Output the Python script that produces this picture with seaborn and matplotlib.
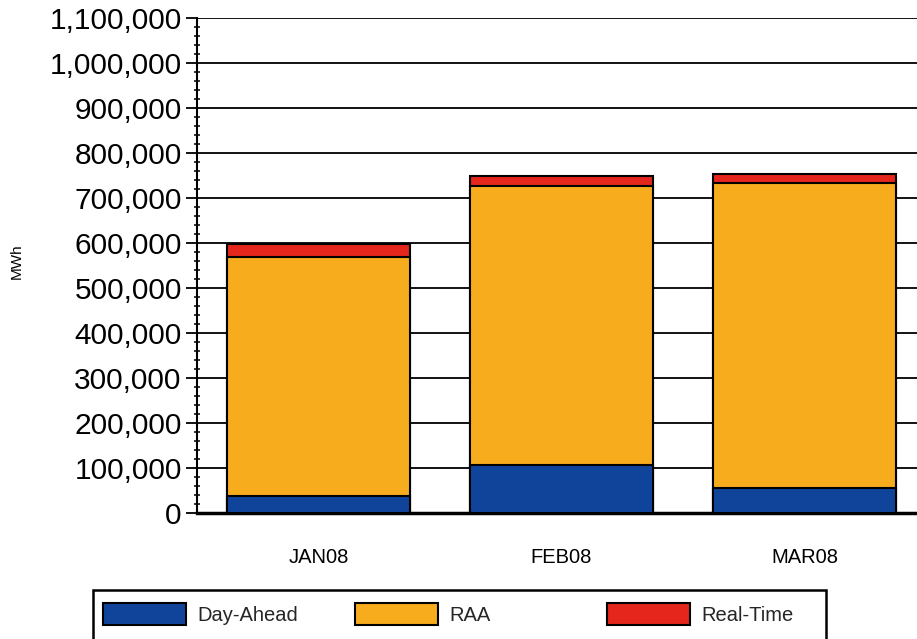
import matplotlib
matplotlib.use("Agg")
import matplotlib.pyplot as plt
import matplotlib.ticker as mticker
from matplotlib.patches import Patch, Rectangle
import numpy as np
import pandas as pd
import seaborn as sns

months = ["JAN08", "FEB08", "MAR08"]
day_ahead = [37000, 107000, 55000]
raa = [533000, 619000, 678000]
real_time = [27000, 24000, 20000]

series_names = ["Day-Ahead", "RAA", "Real-Time"]
COLOURS = ["#10449B", "#F6AC1D", "#E5261C"]

sns.set_theme(style="white")
plt.rcParams["font.family"] = ["Liberation Sans", "DejaVu Sans"]

df = pd.DataFrame({"month": months, "Day-Ahead": day_ahead, "RAA": raa, "Real-Time": real_time})

fig = plt.figure(figsize=(9.17, 6.39), dpi=100)
ax = fig.add_axes([197 / 917, 126 / 639, 729 / 917, 495 / 639])

# stacked bars: draw cumulative totals back to front
cum = df[series_names].cumsum(axis=1)
for name, colour in reversed(list(zip(series_names, COLOURS))):
    sns.barplot(x=df["month"], y=cum[name], color=colour, edgecolor="black",
                linewidth=1.5, width=0.75, saturation=1, ax=ax, zorder=3)

ax.set_ylim(0, 1100000)
ax.set_xlim(-0.5, 2.5)
ax.yaxis.set_major_locator(mticker.MultipleLocator(100000))
ax.yaxis.set_minor_locator(mticker.MultipleLocator(20000))
ax.yaxis.set_major_formatter(mticker.StrMethodFormatter("{x:,.0f}"))
ax.grid(axis="y", which="major", color="black", linewidth=1.3, zorder=0)
ax.set_axisbelow(True)

ax.tick_params(axis="y", which="major", direction="out", length=8, width=1.3,
               labelsize=21.5, pad=3, left=True, color="black")
ax.tick_params(axis="y", which="minor", direction="inout", length=5, width=1.1,
               left=True, color="black")
ax.tick_params(axis="x", length=0, labelsize=14.5, pad=25, colors="black")
ax.tick_params(axis="y", labelcolor="black")

for side in ["top", "right"]:
    ax.spines[side].set_visible(False)
ax.spines["left"].set_color("black")
ax.spines["left"].set_linewidth(1.5)
ax.spines["bottom"].set_color("black")
ax.spines["bottom"].set_linewidth(2.5)

ax.set_xlabel("")
ax.set_ylabel("")
fig.text(17 / 917, (639 - 261) / 639, "MWh", rotation=90, fontsize=11,
         ha="center", va="center", color="black")

# legend frame, cut by the bottom edge as in the original
fig.patches.append(Rectangle((93 / 917, -0.05), 733 / 917, 0.05 + (639 - 590) / 639,
                             transform=fig.transFigure, fill=False,
                             edgecolor="black", linewidth=1.8))
handle_x = [103, 355, 607]
for name, colour, hx in zip(series_names, COLOURS, handle_x):
    fig.legend(handles=[Patch(facecolor=colour, edgecolor="black", linewidth=1.5, label=name)],
               loc="center left", bbox_to_anchor=(hx / 917, (639 - 614) / 639),
               frameon=False, fontsize=14.5, borderpad=0, borderaxespad=0,
               handlelength=4.1, handleheight=1.3, handletextpad=0.6)

fig.savefig("out.png", dpi=100)
